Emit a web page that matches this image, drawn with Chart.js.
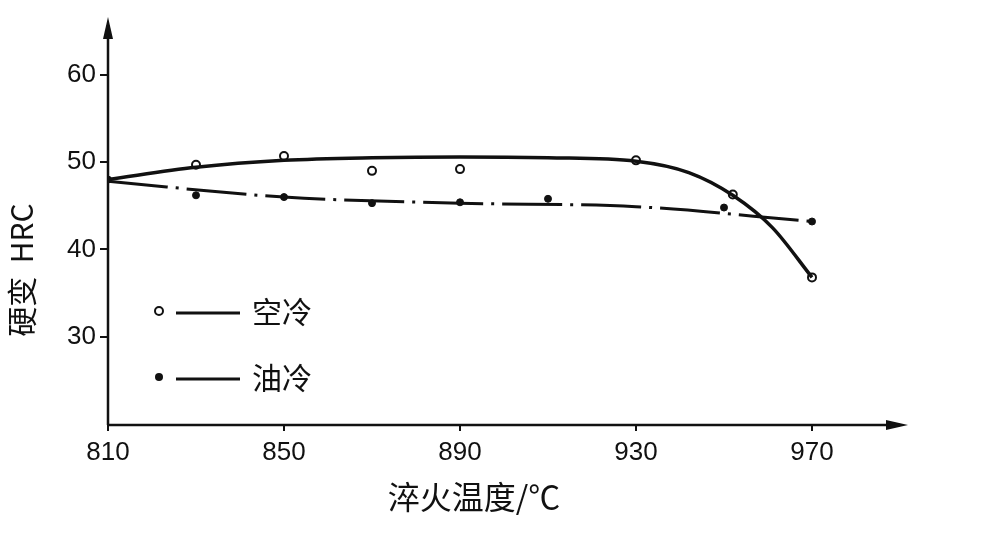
<!DOCTYPE html>
<html><head><meta charset="utf-8">
<script src="https://cdn.jsdelivr.net/npm/chart.js@4"></script>
<style>html,body{margin:0;background:#fff}#w{width:1000px;height:556px}</style>
</head><body><div id="w"><canvas id="c"></canvas></div>
<script>
const xTicks=[810,850,890,930,970];
const yTicks=[30,40,50,60];
const airX=[830,850,870,890,930,952,970];
const airY=[49.7,50.7,49,49.2,50.2,46.3,36.8];
const oilX=[810,830,850,870,890,910,950,970];
const oilY=[48,46.2,46,45.3,45.4,45.8,44.8,43.2];
const airFitX=[810,830,850,870,890,910,930,942,952,961,970];
const airFitY=[48,49.4,50.2,50.5,50.6,50.5,50.1,48.8,46.2,42.5,36.8];
const oilFitX=[810,850,890,930,970];
const oilFitY=[47.8,46,45.3,44.9,43.2];
const xTitle='淬火温度/℃', yTitle='硬变  HRC';
const pts=(xs,ys)=>xs.map((x,i)=>({x,y:ys[i]}));
const ink='#111';
const deco={id:'deco',afterDraw(ch){const c=ch.ctx,a=ch.chartArea;c.save();c.strokeStyle=ink;c.fillStyle=ink;c.lineWidth=2.5;
c.beginPath();c.moveTo(a.left,a.bottom);c.lineTo(a.left,a.top);c.moveTo(a.left,a.bottom);c.lineTo(a.right,a.bottom);c.stroke();
c.beginPath();c.moveTo(a.left,a.top-8);c.lineTo(a.left-5,a.top+14);c.lineTo(a.left+5,a.top+14);c.fill();
c.beginPath();c.moveTo(a.right+8,a.bottom);c.lineTo(a.right-14,a.bottom-5);c.lineTo(a.right-14,a.bottom+5);c.fill();
c.lineWidth=2;c.beginPath();c.arc(159,311,4,0,7);c.stroke();
c.lineWidth=3;c.beginPath();c.moveTo(176,313);c.lineTo(240,313);c.stroke();
c.beginPath();c.arc(159,377,4,0,7);c.fill();
c.beginPath();c.moveTo(176,379);c.lineTo(240,379);c.stroke();
c.font='30px "Noto Sans CJK SC"';c.textBaseline='middle';c.fillText('空冷',252,312);c.fillText('油冷',252,378);
c.textAlign='center';c.font='32px "Noto Sans CJK SC"';c.fillText(xTitle,474,497);
c.font='30px "Noto Sans CJK SC"';c.translate(22,270);c.rotate(-Math.PI/2);c.fillText(yTitle,0,0);
c.restore();}};
new Chart(document.getElementById('c'),{type:'scatter',
data:{datasets:[
{data:pts(airFitX,airFitY),showLine:true,cubicInterpolationMode:'monotone',borderColor:ink,borderWidth:3.5,pointRadius:0},
{data:pts(oilFitX,oilFitY),showLine:true,cubicInterpolationMode:'monotone',borderColor:ink,borderWidth:3,borderDash:[60,8,3,8],pointRadius:0},
{data:pts(airX,airY),pointRadius:4,pointBorderWidth:2,pointBackgroundColor:'#fff',pointBorderColor:ink},
{data:pts(oilX,oilY),pointRadius:3.5,pointBackgroundColor:ink,pointBorderColor:ink}]},
options:{responsive:true,maintainAspectRatio:false,animation:false,
layout:{padding:{top:25,right:100,left:0,bottom:0}},
plugins:{legend:{display:false},tooltip:{enabled:false}},
scales:{
x:{type:'linear',min:810,max:990,afterBuildTicks:s=>{s.ticks=xTicks.map(v=>({value:v}))},afterFit:s=>{s.height=131},
 border:{display:false},grid:{drawOnChartArea:false,tickLength:6,color:ink,lineWidth:2},
 ticks:{color:ink,font:{size:26,family:'Liberation Sans'},padding:6}},
y:{min:19.9,max:65.7,afterBuildTicks:s=>{s.ticks=yTicks.map(v=>({value:v}))},afterFit:s=>{s.width=108},
 border:{display:false},grid:{drawOnChartArea:false,tickLength:8,color:ink,lineWidth:2},
 ticks:{color:ink,font:{size:26,family:'Liberation Sans'},padding:4}}}},
plugins:[deco]});
</script></body></html>
